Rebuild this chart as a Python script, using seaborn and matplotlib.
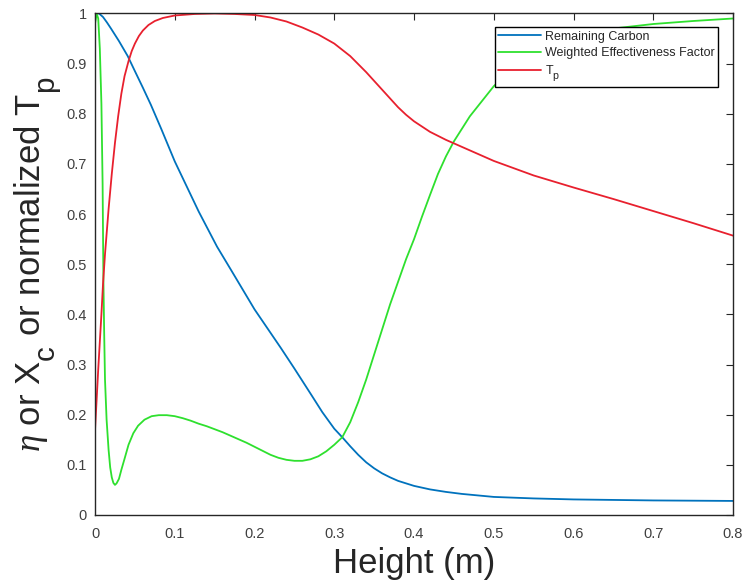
import matplotlib
matplotlib.use('Agg')
import matplotlib.pyplot as plt
import seaborn as sns

try:
    import matplotlib._mathtext as _mt
    _mt.SHRINK_FACTOR = 0.85
    _mt.FontConstantsBase.sub1 = 0.9
    _mt.FontConstantsBase.sub2 = 0.9
except Exception:
    pass

# ---- data ----
carbon_x = [0, 0.005, 0.01, 0.015, 0.02, 0.03, 0.041, 0.05, 0.06, 0.07, 0.083, 0.1, 0.115,
            0.13, 0.153, 0.17, 0.185, 0.2, 0.215, 0.233, 0.25, 0.271, 0.285, 0.3, 0.31,
            0.32, 0.33, 0.34, 0.35, 0.36, 0.37, 0.38, 0.39, 0.4, 0.42, 0.44, 0.46, 0.48,
            0.5, 0.55, 0.6, 0.7, 0.8]
carbon_y = [1.0, 1.0, 0.993, 0.982, 0.97, 0.945, 0.915, 0.885, 0.852, 0.818, 0.77, 0.705,
            0.655, 0.605, 0.535, 0.49, 0.45, 0.41, 0.375, 0.333, 0.292, 0.24, 0.205, 0.172,
            0.155, 0.137, 0.12, 0.105, 0.093, 0.083, 0.075, 0.068, 0.063, 0.058, 0.051,
            0.046, 0.042, 0.039, 0.036, 0.033, 0.031, 0.029, 0.028]

eta_x = [0, 0.002, 0.004, 0.006, 0.008, 0.0095, 0.0105, 0.0115, 0.0125, 0.0145, 0.017,
         0.019, 0.021, 0.023, 0.025, 0.027, 0.03, 0.033, 0.037, 0.042, 0.048, 0.054, 0.062,
         0.071, 0.08, 0.09, 0.1, 0.11, 0.12, 0.13, 0.14, 0.15, 0.16, 0.17, 0.18, 0.19, 0.2,
         0.21, 0.22, 0.23, 0.24, 0.25, 0.26, 0.27, 0.28, 0.29, 0.3, 0.31, 0.32, 0.33, 0.34,
         0.35, 0.36, 0.37, 0.38, 0.39, 0.4, 0.41, 0.42, 0.43, 0.44, 0.45, 0.46, 0.47, 0.48,
         0.49, 0.5, 0.52, 0.55, 0.6, 0.65, 0.7, 0.75, 0.8]
eta_y = [0.98, 1.0, 0.99, 0.93, 0.82, 0.66, 0.47, 0.36, 0.27, 0.19, 0.13, 0.095, 0.075,
         0.064, 0.06, 0.063, 0.072, 0.09, 0.112, 0.14, 0.163, 0.178, 0.19, 0.197, 0.199,
         0.199, 0.197, 0.193, 0.188, 0.182, 0.177, 0.171, 0.165, 0.158, 0.151, 0.144,
         0.136, 0.128, 0.12, 0.114, 0.11, 0.108, 0.108, 0.111, 0.117, 0.127, 0.14, 0.155,
         0.185, 0.225, 0.27, 0.32, 0.37, 0.42, 0.465, 0.51, 0.55, 0.595, 0.638, 0.68,
         0.715, 0.745, 0.77, 0.795, 0.815, 0.835, 0.855, 0.885, 0.92, 0.952, 0.97, 0.979,
         0.985, 0.99]

tp_x = [0, 0.002, 0.004, 0.006, 0.008, 0.01, 0.0125, 0.015, 0.017, 0.021, 0.025, 0.029,
        0.033, 0.037, 0.042, 0.046, 0.05, 0.055, 0.06, 0.067, 0.075, 0.085, 0.1, 0.125,
        0.15, 0.175, 0.2, 0.22, 0.24, 0.26, 0.28, 0.3, 0.32, 0.34, 0.36, 0.38, 0.39, 0.4,
        0.42, 0.44, 0.46, 0.48, 0.5, 0.55, 0.6, 0.65, 0.7, 0.75, 0.8]
tp_y = [0.17, 0.23, 0.29, 0.345, 0.40, 0.46, 0.52, 0.57, 0.61, 0.68, 0.742, 0.795, 0.84,
        0.875, 0.905, 0.925, 0.94, 0.955, 0.966, 0.977, 0.985, 0.991, 0.996, 0.999, 1.0,
        0.999, 0.997, 0.992, 0.984, 0.972, 0.958, 0.94, 0.915, 0.883, 0.848, 0.813, 0.798,
        0.785, 0.764, 0.748, 0.734, 0.72, 0.706, 0.677, 0.653, 0.63, 0.606, 0.582, 0.557]

series_labels = ["Remaining Carbon", "Weighted Effectiveness Factor", "T$_\\mathrm{p}$"]
x_ticks = [0, 0.1, 0.2, 0.3, 0.4, 0.5, 0.6, 0.7, 0.8]
x_tick_labels = ["0", "0.1", "0.2", "0.3", "0.4", "0.5", "0.6", "0.7", "0.8"]
y_ticks = [0, 0.1, 0.2, 0.3, 0.4, 0.5, 0.6, 0.7, 0.8, 0.9, 1.0]
y_tick_labels = ["0", "0.1", "0.2", "0.3", "0.4", "0.5", "0.6", "0.7", "0.8", "0.9", "1"]

# ---- style ----
sns.set_style('white')
plt.rcParams['font.family'] = ['Liberation Sans', 'DejaVu Sans']
plt.rcParams['mathtext.fontset'] = 'custom'
plt.rcParams['mathtext.rm'] = 'Liberation Sans'
plt.rcParams['mathtext.it'] = 'Liberation Serif:italic'
plt.rcParams['mathtext.bf'] = 'Liberation Sans:bold'

fig = plt.figure(figsize=(7.43, 5.86), dpi=100)
ax = fig.add_axes([0.1279, 0.1212, 0.8587, 0.8558])

colors = ['#0072BD', '#2ee02e', '#e8202e']
for xs, ys, lab, col in zip([carbon_x, eta_x, tp_x], [carbon_y, eta_y, tp_y],
                            series_labels, colors):
    sns.lineplot(x=xs, y=ys, ax=ax, color=col, linewidth=1.3, label=lab,
                 estimator=None, sort=False)

ax.set_xlim(0, 0.8)
ax.set_ylim(0, 1)
ax.set_xticks(x_ticks)
ax.set_xticklabels(x_tick_labels)
ax.set_yticks(y_ticks)
ax.set_yticklabels(y_tick_labels)
ax.tick_params(direction='in', top=True, right=True, length=5, width=0.8,
               labelsize=10.5, labelcolor='#404040', color='#262626', pad=6)
ax.tick_params(axis='x', pad=9)
for s in ax.spines.values():
    s.set_visible(True)
    s.set_color('#262626')
    s.set_linewidth(1.0)

ax.set_xlabel("Height (m)", fontsize=25, color='#262626', labelpad=4)
ax.set_ylabel("$\\eta$ or X$_\\mathrm{c}$ or normalized T$_\\mathrm{p}$", fontsize=25,
              color='#262626', labelpad=2)

leg = ax.legend(loc='upper right', bbox_to_anchor=(0.9765, 0.973), frameon=True,
                fancybox=False, framealpha=1, edgecolor='black', fontsize=9,
                handlelength=3.4, borderaxespad=0, labelspacing=0.35,
                handletextpad=0.3, borderpad=0.3)
leg.get_frame().set_linewidth(1.0)

fig.savefig('out.png', dpi=100)
